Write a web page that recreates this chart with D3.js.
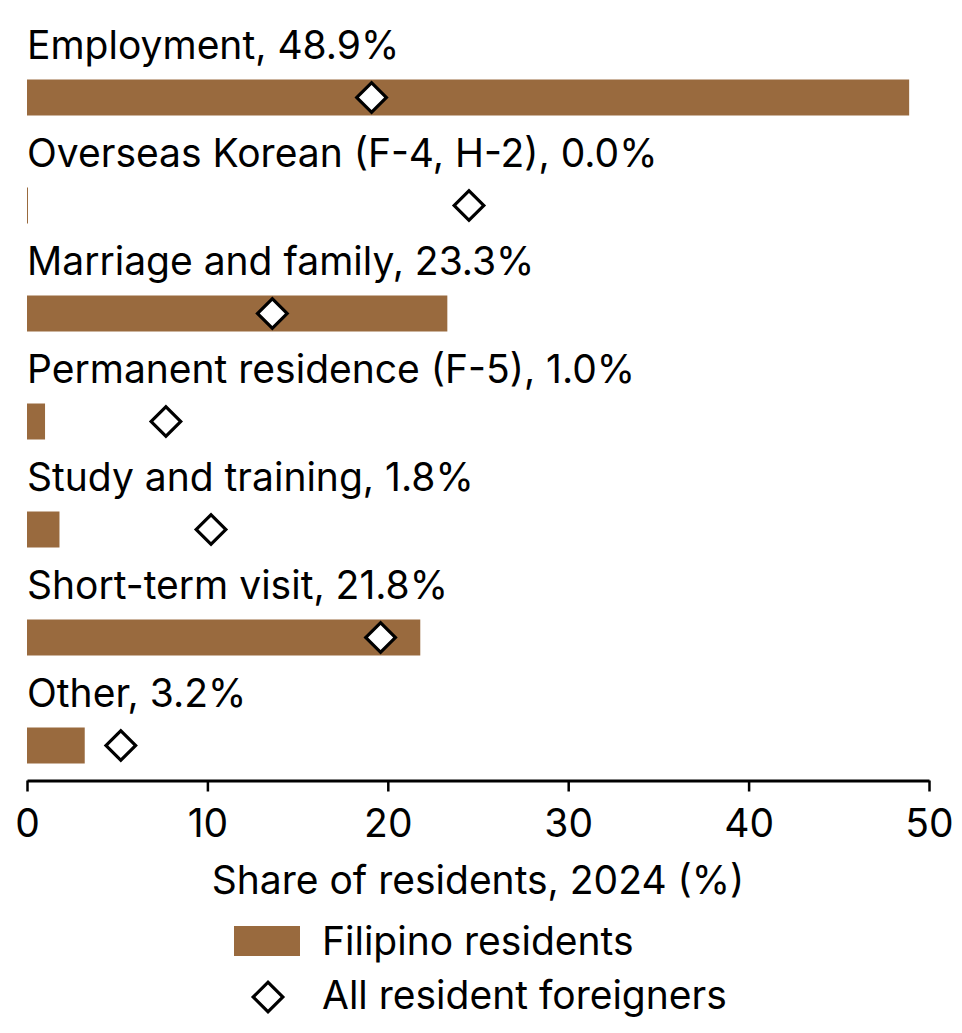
<!DOCTYPE html>
<html>
<head>
<meta charset="utf-8">
<script src="https://cdn.jsdelivr.net/npm/d3@7"></script>
<style>
  body { margin: 0; background: #fff; }
  svg text { font-family: Inter, "Noto Sans", sans-serif; fill: #000; }
</style>
</head>
<body>
<div class="chart"></div>
<script>
// visa categories, top to bottom
const categories = [
  'Employment',
  'Overseas Korean (F-4, H-2)',
  'Marriage and family',
  'Permanent residence (F-5)',
  'Study and training',
  'Short-term visit',
  'Other'
]
// Filipino residents share (%)
const filipino = [48.9, 0.0, 23.3, 1.0, 1.8, 21.8, 3.2]
// all resident foreigners share (%)
const allForeign = [19.1, 24.5, 13.6, 7.7, 10.2, 19.6, 5.2]
const xTicks = [0, 10, 20, 30, 40, 50]

const data = categories.map((c, i) => ({cat: c, fil: filipino[i], all: allForeign[i]}))

const W = 962, H = 1033
const margin = {left: 27, right: 33}
const barColor = '#996a3e'
const fs = 39

const svg = d3.select('.chart').append('svg')
  .attr('width', W)
  .attr('height', H)

const x = d3.scaleLinear()
  .domain([0, 50])
  .range([margin.left, W - margin.right])

// 108px per row
const y = d3.scaleBand()
  .domain(categories)
  .range([43.5, 43.5 + 108 * categories.length])

const barH = 36
const barOff = 54 // bar centre below band top

svg.selectAll('.bar')
  .data(data)
  .enter()
  .append('rect')
  .attr('class', 'bar')
  .attr('x', x(0))
  .attr('y', d => y(d.cat) + barOff - barH / 2)
  .attr('width', d => Math.max(x(d.fil) - x(0), 1))
  .attr('height', barH)
  .attr('fill', barColor)

svg.selectAll('.lbl')
  .data(data)
  .enter()
  .append('text')
  .attr('class', 'lbl')
  .attr('x', x(0))
  .attr('y', d => y(d.cat) + barOff - 39)
  .attr('font-size', fs)
  .text(d => `${d.cat}, ${d.fil.toFixed(1)}%`)

const diamond = d3.symbol().type(d3.symbolSquare).size(440)

svg.selectAll('.dia')
  .data(data)
  .enter()
  .append('path')
  .attr('class', 'dia')
  .attr('d', diamond)
  .attr('transform', d => `translate(${x(d.all)},${y(d.cat) + barOff}) rotate(45)`)
  .attr('fill', '#fff')
  .attr('stroke', '#000')
  .attr('stroke-width', 3.2)

const axisY = 780.5
const xAxis = svg.append('g')
  .attr('transform', `translate(0,${axisY})`)
  .call(d3.axisBottom(x).tickValues(xTicks).tickSize(11).tickSizeOuter(0).tickPadding(18))

xAxis.select('.domain').attr('stroke', '#000').attr('stroke-width', 3)
xAxis.selectAll('.tick line').attr('stroke', '#000').attr('stroke-width', 2.5)
xAxis.selectAll('.tick text')
  .attr('font-size', fs)
  .attr('font-family', 'Inter, sans-serif')
  .attr('fill', '#000')

svg.append('text')
  .attr('x', (x(0) + x(50)) / 2)
  .attr('y', 894)
  .attr('text-anchor', 'middle')
  .attr('font-size', fs)
  .text('Share of residents, 2024 (%)')

// legend
const leg = svg.append('g')
leg.append('rect')
  .attr('x', 234).attr('y', 926)
  .attr('width', 66).attr('height', 30)
  .attr('fill', barColor)
leg.append('text')
  .attr('x', 322).attr('y', 955)
  .attr('font-size', fs)
  .text('Filipino residents')
leg.append('path')
  .attr('d', diamond)
  .attr('transform', 'translate(268,997) rotate(45)')
  .attr('fill', '#fff')
  .attr('stroke', '#000')
  .attr('stroke-width', 3.2)
leg.append('text')
  .attr('x', 322).attr('y', 1009)
  .attr('font-size', fs)
  .text('All resident foreigners')
</script>
</body>
</html>
